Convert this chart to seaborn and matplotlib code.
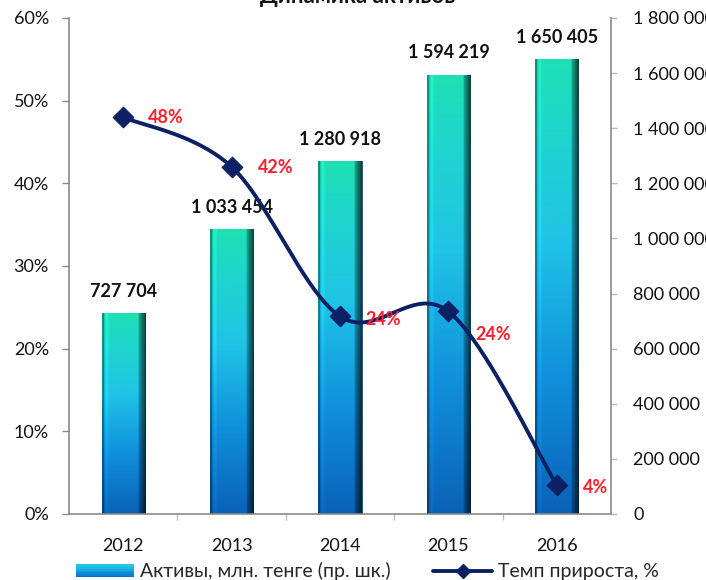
import numpy as np
import pandas as pd
import matplotlib
matplotlib.use('Agg')
import matplotlib.pyplot as plt
import seaborn as sns
from matplotlib.patches import Rectangle
from matplotlib.lines import Line2D
from matplotlib.legend_handler import HandlerBase
from matplotlib.colors import LinearSegmentedColormap

# data
years = ['2012', '2013', '2014', '2015', '2016']
assets = [727704, 1033454, 1280918, 1594219, 1650405]
growth = [48.0, 42.0, 23.9, 24.5, 3.5]
growth_labels = ['48%', '42%', '24%', '24%', '4%']
asset_labels = ['727 704', '1 033 454', '1 280 918', '1 594 219', '1 650 405']

sns.set_style('white')
plt.rcParams['font.family'] = ['Lato', 'DejaVu Sans']

navy = '#0c2163'
red = '#ff1f2f'
grid_gray = '#8a8a8a'

bar_cmap = LinearSegmentedColormap.from_list(
    'bars', [(0.0, '#0a62b8'), (0.3, '#1090dc'), (0.6, '#1fc4e6'), (0.85, '#1fd6cc'), (1.0, '#1ee0b4')])


def bar_image(n=200, m=60):
    v = np.linspace(0, 1, n)[:, None]
    rgb = bar_cmap(np.repeat(v, m, axis=1))[..., :3]
    u = np.linspace(0, 1, m)
    shade = np.ones(m)
    shade[u < 0.05] = 0.65
    shade[(u > 0.08) & (u < 0.14)] = 1.08
    shade[u > 0.84] = np.linspace(0.75, 0.3, (u > 0.84).sum())
    rgb = np.clip(rgb * shade[None, :, None], 0, 1)
    return rgb


def smooth(xs, ys, k=40):
    # excel-like smoothed line (bezier through points)
    P = np.column_stack([xs, ys]).astype(float)
    ext = np.vstack([P[0], P, P[-1]])
    out = []
    t = np.linspace(0, 1, k)[:, None]
    for i in range(len(P) - 1):
        p0, p3 = ext[i + 1], ext[i + 2]
        c1 = p0 + (ext[i + 2] - ext[i]) / 6
        c2 = p3 - (ext[i + 3] - ext[i + 1]) / 6
        seg = (1 - t) ** 3 * p0 + 3 * (1 - t) ** 2 * t * c1 + 3 * (1 - t) * t ** 2 * c2 + t ** 3 * p3
        out.append(seg)
    out = np.vstack(out)
    return out[:, 0], out[:, 1]


fig = plt.figure(figsize=(7.06, 5.8), dpi=100)
ax = fig.add_axes([69 / 706, 66 / 580, 542 / 706, 496 / 580])
ax2 = ax.twinx()
ax.set_zorder(ax2.get_zorder() + 1)
ax.patch.set_visible(False)

df = pd.DataFrame({'year': years, 'assets': assets})
sns.barplot(data=df, x='year', y='assets', ax=ax2, width=0.4, color='#1aa0e0', saturation=1)

img = bar_image()
for p in ax2.patches:
    x0, w, h = p.get_x(), p.get_width(), p.get_height()
    p.set_facecolor('none')
    p.set_edgecolor('#0a3a60')
    p.set_linewidth(0.6)
    im = ax2.imshow(img, extent=[x0, x0 + w, 0, h], origin='lower', aspect='auto',
                    zorder=1, interpolation='bilinear')
    im.set_clip_path(p)

ax2.set_xlim(-0.5, 4.5)
ax2.set_ylim(0, 1800000)
ax2.set_yticks(range(0, 1800001, 200000))
ax2.set_yticklabels([f'{v:,}'.replace(',', ' ') for v in range(0, 1800001, 200000)])

for i, v in enumerate(assets):
    ax2.annotate(asset_labels[i], xy=(i, v), xytext=(0, 22), textcoords='offset pixels',
                 ha='center', va='center', fontsize=13, fontweight='bold', color='#111111')

xs = np.arange(len(years))
sx, sy = smooth(xs, growth)
ax.plot(sx, sy, color=navy, lw=2.8, zorder=3, solid_capstyle='round')
sns.scatterplot(x=xs, y=growth, ax=ax, marker='D', s=110, color=navy, edgecolor=navy, zorder=4)

offsets = [(25, 0), (26, -1), (25, -3), (27, -23), (26, -2)]
for i, v in enumerate(growth):
    ax.annotate(growth_labels[i], xy=(i, v), xytext=offsets[i], textcoords='offset pixels',
                ha='left', va='center', fontsize=13, fontweight='bold', color=red, zorder=5)

ax.set_xlim(-0.5, 4.5)
ax.set_ylim(0, 60)
ax.set_yticks(range(0, 61, 10))
ax.set_yticklabels([f'{v}%' for v in range(0, 61, 10)])
ax.set_xticks(xs)
ax.set_xticklabels(years)
ax.set_xticks([0.5, 1.5, 2.5, 3.5], minor=True)
ax.set_xlabel('')
ax.set_ylabel('')
ax2.set_ylabel('')
ax2.set_xlabel('')

for a in (ax, ax2):
    for s in a.spines.values():
        s.set_visible(False)
ax.spines['left'].set_visible(True)
ax.spines['bottom'].set_visible(True)
ax2.spines['right'].set_visible(True)
for s in (ax.spines['left'], ax.spines['bottom'], ax2.spines['right']):
    s.set_color(grid_gray)
    s.set_linewidth(1.2)

ax.tick_params(axis='y', left=True, length=5, width=1, color=grid_gray, pad=9.5, labelsize=13, labelcolor='#111111')
ax.tick_params(axis='x', which='major', bottom=False, pad=14, labelsize=13, labelcolor='#111111')
ax.tick_params(axis='x', which='minor', bottom=True, length=4, width=1, color='#bbbbbb')
ax2.tick_params(axis='y', right=True, length=4, width=1, color='#bbbbbb', pad=12, labelsize=13, labelcolor='#111111')
ax2.tick_params(axis='x', bottom=False, labelbottom=False)

fig.text(358 / 706, 1 - 3 / 580, 'Динамика активов', ha='center', va='baseline',
         fontsize=16, fontweight='bold', color='#111111')


class GradHandler(HandlerBase):
    def create_artists(self, legend, orig_handle, xdescent, ydescent, width, height, fontsize, trans):
        arts = []
        n = 8
        for k in range(n):
            r = Rectangle((-xdescent, -ydescent + height * k / n), width, height / n,
                          facecolor=bar_cmap(0.1 + 0.6 * k / (n - 1)), edgecolor='none', transform=trans)
            arts.append(r)
        return arts


bar_handle = Rectangle((0, 0), 1, 1)
line_handle = Line2D([0], [0], color=navy, lw=2.8, marker='D', markersize=7)
fig.legend([bar_handle, line_handle], ['Активы, млн. тенге (пр. шк.)', 'Темп прироста, %'],
           loc='center', bbox_to_anchor=(0.52, 0.015), ncol=2, frameon=False, fontsize=14,
           handlelength=3.0, handletextpad=0.3, columnspacing=2.2,
           handler_map={Rectangle: GradHandler()})

fig.savefig('out.png', dpi=100)
